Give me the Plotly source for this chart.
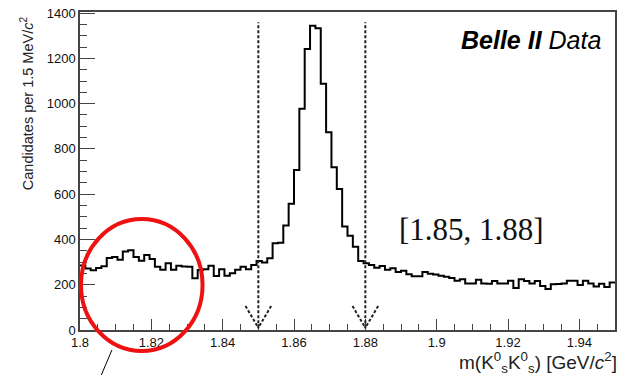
import numpy as np
import plotly.graph_objects as go

# ---- data ----
x_min = 1.80
bin_width = 0.0015
counts = [
    285, 272, 264, 274, 282, 318, 322, 310, 347, 352,
    322, 306, 331, 314, 279, 266, 295, 266, 284, 281,
    279, 229, 265, 268, 284, 239, 268, 240, 251, 266,
    280, 268, 287, 305, 298, 317, 383, 386, 462, 558,
    707, 977, 1241, 1344, 1333, 1088, 874, 719, 623, 457,
    416, 368, 305, 295, 287, 275, 283, 266, 273, 256,
    262, 246, 238, 238, 256, 249, 245, 240, 235, 230,
    218, 224, 206, 206, 222, 205, 204, 216, 206, 206,
    218, 186, 224, 216, 206, 216, 194, 181, 202, 203,
    205, 218, 218, 199, 218, 206, 192, 204, 190, 210,
]
window = [1.85, 1.88]
x_tick_vals = [1.80, 1.82, 1.84, 1.86, 1.88, 1.90, 1.92, 1.94]
x_tick_text = ["1.8", "1.82", "1.84", "1.86", "1.88", "1.9", "1.92", "1.94"]
y_tick_vals = [0, 200, 400, 600, 800, 1000, 1200, 1400]

edges = x_min + bin_width * np.arange(len(counts) + 1)
xs = list(edges)
ys = counts + [counts[-1]]

# ---- geometry helpers (pixel -> paper) ----
W, H = 619, 375
ML, MR, MT, MB = 80, 2, 12, 45
PW, PH = W - ML - MR, H - MT - MB


def px(xp):
    return (xp - ML) / PW


def py(yp):
    return (H - MB - yp) / PH


fig = go.Figure()
fig.add_trace(go.Scatter(
    x=xs, y=ys, mode="lines", line=dict(shape="hv", color="black", width=2),
    hoverinfo="skip", showlegend=False,
))

shapes = []
dot = "3px,2px"
for w in window:
    shapes.append(dict(type="line", xref="x", yref="y", x0=w, x1=w, y0=8, y1=1360,
                       line=dict(color="#222", width=2, dash=dot)))
    for s in (-1, 1):
        shapes.append(dict(type="line", xref="x", yref="y", x0=w + s * 0.0036, x1=w,
                           y0=106, y1=10, line=dict(color="#222", width=2, dash=dot)))

# red ellipse highlight
shapes.append(dict(type="circle", xref="paper", yref="paper",
                   x0=px(81), x1=px(203), y0=py(351), y1=py(219),
                   line=dict(color="#ee1111", width=4)))
# pointer line
shapes.append(dict(type="line", xref="paper", yref="paper",
                   x0=px(112), y0=py(350), x1=px(101), y1=py(376),
                   line=dict(color="black", width=1)))

annotations = [
    dict(text="<b><i>Belle II</i></b> <i>Data</i>", xref="paper", yref="paper",
         x=px(605), y=py(40), xanchor="right", yanchor="middle", showarrow=False,
         font=dict(family="Liberation Sans", size=25, color="black")),
    dict(text=f"[{window[0]}, {window[1]}]", xref="paper", yref="paper",
         x=px(473), y=py(229), xanchor="center", yanchor="middle", showarrow=False,
         font=dict(family="Liberation Serif", size=31, color="#111")),
    dict(text="Candidates per 1.5 MeV/<i>c</i><sup>2</sup>", xref="paper", yref="paper",
         x=px(27), y=py(103), xanchor="center", yanchor="middle", textangle=-90,
         showarrow=False, font=dict(family="Liberation Sans", size=14.5, color="#222")),
    dict(text="m(K<sup>0</sup><sub>s</sub>K<sup>0</sup><sub>s</sub>) [GeV/<i>c</i><sup>2</sup>]",
         xref="paper", yref="paper", x=px(621), y=py(362.5), xanchor="right", yanchor="middle",
         showarrow=False, font=dict(family="Liberation Sans", size=19, color="#222")),
]

axis_common = dict(showline=True, mirror=True, linecolor="#444", linewidth=1.5,
                   ticks="inside", tickcolor="#444", showgrid=False, zeroline=False,
                   tickfont=dict(family="Liberation Sans", size=13, color="#111"))

fig.update_layout(
    width=W, height=H,
    margin=dict(l=ML, r=MR, t=MT, b=MB, pad=0),
    paper_bgcolor="white", plot_bgcolor="white",
    xaxis=dict(range=[1.80, 1.95], tickvals=x_tick_vals, ticktext=x_tick_text,
               ticklen=11, tickwidth=1.2,
               minor=dict(dtick=0.005, tick0=1.80, ticks="inside", ticklen=6,
                          tickcolor="#444", tickwidth=1.2, showgrid=False),
               **axis_common),
    yaxis=dict(range=[0, 1405], tickvals=y_tick_vals, ticklen=15, tickwidth=1.2,
               minor=dict(dtick=50, tick0=0, ticks="inside", ticklen=7,
                          tickcolor="#444", tickwidth=1.2, showgrid=False),
               **axis_common),
    shapes=shapes,
    annotations=annotations,
)

fig.write_html("out.html")
